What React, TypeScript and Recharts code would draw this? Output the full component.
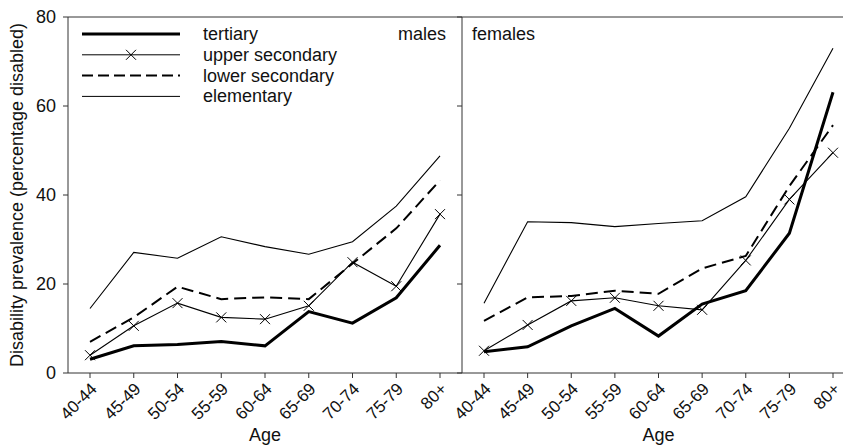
import React from "react";
import { LineChart, Line, XAxis, YAxis, ReferenceLine, Legend } from "recharts";

const ages = ["40-44", "45-49", "50-54", "55-59", "60-64", "65-69", "70-74", "75-79", "80+"];
const yTicks = [0, 20, 40, 60, 80];

const maleTertiary = [3.1, 6.1, 6.4, 7.1, 6.1, 13.8, 11.2, 16.9, 28.7];
const maleUpper = [4.0, 10.6, 15.7, 12.5, 12.1, 15.1, 24.9, 19.5, 35.7];
const maleLower = [7.0, 12.5, 19.4, 16.6, 17.0, 16.6, 24.6, 32.5, 43.3];
const maleElementary = [14.5, 27.1, 25.8, 30.6, 28.4, 26.7, 29.5, 37.5, 48.8];

const femaleTertiary = [4.8, 5.9, 10.6, 14.5, 8.3, 15.5, 18.5, 31.4, 63.1];
const femaleUpper = [5.0, 10.8, 16.2, 16.9, 15.1, 14.2, 25.3, 39.0, 49.5];
const femaleLower = [11.7, 17.0, 17.3, 18.5, 17.8, 23.5, 26.3, 42.0, 55.7];
const femaleElementary = [15.7, 34.0, 33.8, 32.9, 33.6, 34.2, 39.6, 55.0, 73.0];

const FONT = "'Liberation Sans', Arial, Helvetica, sans-serif";
const FS = 18;
const AXIS = "#333";
const INK = "#000";

const males = ages.map((age, i) => ({
  age,
  tertiary: maleTertiary[i],
  upper: maleUpper[i],
  lower: maleLower[i],
  elementary: maleElementary[i],
}));

const females = ages.map((age, i) => ({
  age,
  tertiary: femaleTertiary[i],
  upper: femaleUpper[i],
  lower: femaleLower[i],
  elementary: femaleElementary[i],
}));

const renderCross = (props: any) => {
  const { cx, cy, index } = props;
  if (cx == null || cy == null) return <g key={`x${index}`} />;
  const s = 5;
  return (
    <path
      key={`x${index}`}
      d={`M${cx - s},${cy - s}L${cx + s},${cy + s}M${cx + s},${cy - s}L${cx - s},${cy + s}`}
      stroke={INK}
      strokeWidth={1}
      fill="none"
    />
  );
};

// rotated age labels, end of the text sits just right of the tick
const AgeTick = (props: any) => {
  const { x, y, payload } = props;
  const ax = x + 8;
  const ay = y + 10;
  return (
    <text
      x={ax}
      y={ay}
      transform={`rotate(-45 ${ax} ${ay})`}
      textAnchor="end"
      fontSize={17}
      fontFamily={FONT}
      fill="#111"
    >
      {payload.value}
    </text>
  );
};

// right panel keeps its tick marks but has no numbers
const NoLabel = () => <g />;

const YTitle = (props: any) => {
  const vb = props.viewBox || { x: 0, y: 17, height: 356 };
  const x = 17;
  const y = vb.y + vb.height / 2;
  return (
    <text
      x={x}
      y={y}
      transform={`rotate(-90 ${x} ${y})`}
      textAnchor="middle"
      dominantBaseline="central"
      fontSize={FS}
      fontFamily={FONT}
      fill="#111"
    >
      Disability prevalence (percentage disabled)
    </text>
  );
};

const legendRows = [
  { name: "tertiary", width: 3, dash: undefined, cross: false },
  { name: "upper secondary", width: 1, dash: undefined, cross: true },
  { name: "lower secondary", width: 2, dash: "11 5", cross: false },
  { name: "elementary", width: 1, dash: undefined, cross: false },
];

const LegendBox = () => (
  <svg width={462} height={110} style={{ display: "block" }}>
    {legendRows.map((r, i) => {
      const y = 34 + i * 20.8;
      return (
        <g key={r.name}>
          <line x1={82} x2={180} y1={y} y2={y} stroke={INK} strokeWidth={r.width} strokeDasharray={r.dash} />
          {r.cross && renderCross({ cx: 131, cy: y, index: 99 })}
          <text x={203} y={y} dominantBaseline="central" fontSize={FS} fontFamily={FONT} fill="#111">
            {r.name}
          </text>
        </g>
      );
    })}
  </svg>
);

const AgeTitle = (props: any) => {
  const vb = props.viewBox || { x: 0, width: 0 };
  return (
    <text x={vb.x + vb.width / 2} y={441} textAnchor="middle" fontSize={FS} fontFamily={FONT} fill="#111">
      Age
    </text>
  );
};

function Panel({ data, first, width, left }: { data: any[]; first: boolean; width: number; left: number }) {
  return (
    <div style={{ position: "absolute", left, top: 0 }}>
      <LineChart width={width} height={446} data={data} margin={{ top: 17, right: 0, bottom: 0, left: 0 }}>
        <XAxis
          dataKey="age"
          height={73}
          padding={{ left: 22, right: 22 }}
          stroke={AXIS}
          tickSize={5}
          interval={0}
          tick={<AgeTick />}
          label={<AgeTitle />}
        />
        <YAxis
          domain={[0, 80]}
          ticks={yTicks}
          width={first ? 68 : 62}
          stroke={AXIS}
          tickSize={5}
          tickMargin={7}
          tick={first ? { fontSize: FS, fontFamily: FONT, fill: "#111" } : <NoLabel />}
          label={first ? <YTitle /> : undefined}
        />
        <ReferenceLine y={80} stroke={AXIS} strokeWidth={1} />
        {first && (
          <Legend
            layout="vertical"
            align="center"
            verticalAlign="middle"
            wrapperStyle={{ position: "absolute", left: 0, top: 0, width: 462, height: 110 }}
            content={() => <LegendBox />}
          />
        )}
        <Line dataKey="elementary" stroke={INK} strokeWidth={1.1} dot={false} isAnimationActive={false} />
        <Line dataKey="lower" stroke={INK} strokeWidth={2} strokeDasharray="12 6" dot={false} isAnimationActive={false} />
        <Line dataKey="upper" stroke={INK} strokeWidth={1.1} dot={renderCross} isAnimationActive={false} />
        <Line dataKey="tertiary" stroke={INK} strokeWidth={3} dot={false} isAnimationActive={false} />
      </LineChart>
    </div>
  );
}

export default function App() {
  return (
    <div
      style={{
        position: "absolute",
        left: 0,
        top: 0,
        width: 843,
        height: 446,
        overflow: "hidden",
        background: "#fff",
        fontFamily: FONT,
      }}
    >
      <Panel data={males} first={true} width={462} left={0} />
      <Panel data={females} first={false} width={455} left={400} />
      <div style={{ position: "absolute", left: 398, top: 24, fontSize: FS, color: "#111" }}>males</div>
      <div style={{ position: "absolute", left: 472, top: 24, fontSize: FS, color: "#111" }}>females</div>
    </div>
  );
}
